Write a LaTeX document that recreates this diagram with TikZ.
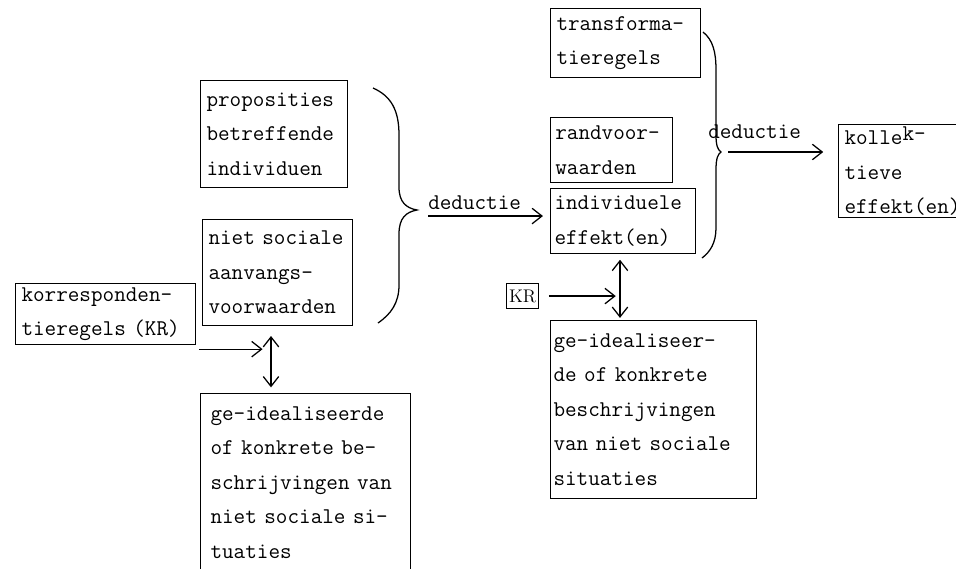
\documentclass[tikz,border=0pt]{standalone}
\usepackage{fontspec}
\usetikzlibrary{arrows.meta,positioning,calc}

\newcommand\typew{\fontsize{16}{24.5}\selectfont\ttfamily}

\begin{document}
\begin{tikzpicture}[
    x=0.025cm, y=-0.025cm,
    box/.style 2 args={rectangle, draw, line width=0.8pt, anchor=north west, align=left, font=\typew, inner xsep=0.15cm, inner ysep=0pt, text width=#1, minimum height=#2},
    lbl/.style={font=\typew, inner sep=0pt},
    arr/.style={-{Straight Barb[length=7pt,width=11pt]}, line width=0.9pt},
    dbl/.style={{Straight Barb[length=7pt,width=11pt]}-{Straight Barb[length=7pt,width=11pt]}, line width=0.9pt},
    brc/.style={line width=0.9pt}
]
\useasboundingbox (0,0) rectangle (956,568);

% Left column
\node[box={4.2cm}{1.525cm}] (korr) at (15,283) {korresponden-\\tieregels (KR)};
\node[box={3.375cm}{2.675cm}] (prop) at (200,80) {proposities\\betreffende\\individuen};
\node[box={3.45cm}{2.65cm}] (niet) at (202,219) {niet sociale\\aanvangs-\\voorwaarden};
\node[box={4.75cm}{4.45cm}, inner xsep=0.25cm] (geid1) at (200,393) {ge-idealiseerde\\of konkrete be-\\schrijvingen van\\niet sociale si-\\tuaties};

% Brace over the first two boxes
\draw[brc] (373,88) .. controls (391,96) and (399,110) .. (399,135) -- (399,187)
    .. controls (399,202) and (406,208) .. (417,210) coordinate (tip1)
    .. controls (406,212) and (399,218) .. (399,234) -- (399,285)
    .. controls (399,303) and (391,314) .. (378,323);

% Middle column
\node[box={3.45cm}{1.725cm}] (trans) at (550,8) {transforma-\\tieregels};
\node[box={2.81cm}{1.625cm}, inner xsep=0.12cm] (rand) at (550,117) {randvoor-\\waarden};
\node[box={3.425cm}{1.625cm}, inner xsep=0.1cm] (indiv) at (550,188) {individuele\\effekt(en)};
\node[box={5.0cm}{4.45cm}, inner xsep=0.075cm] (geid2) at (550,320) {ge-idealiseer-\\de of konkrete\\beschrijvingen\\van niet sociale\\situaties};
\node[rectangle, draw, line width=0.8pt, anchor=north west, inner sep=0pt, minimum width=0.8cm, minimum height=0.625cm, font=\fontsize{13}{15}\selectfont] (kr) at (506,283) {KR};

% Brace over the middle column
\draw[brc] (703,32) .. controls (713,40) and (716,52) .. (716,70) -- (716,135)
    .. controls (716,146) and (718,150) .. (721,152) coordinate (tip2)
    .. controls (718,154) and (716,158) .. (716,170) -- (716,228)
    .. controls (716,243) and (710,252) .. (702,258);

% Right column
\node[box={3.7cm}{2.325cm}] (koll) at (838,124) {kolle\raisebox{0.5ex}{k-}\\tieve\\effekt(en)};

% Deductions
\node[lbl, anchor=base west] (ded1) at (428,209) {deductie};
\draw[arr, shorten >=5pt] ([yshift=-5pt]ded1.base west) -- ([yshift=-5pt]ded1.base west -| indiv.west);
\node[lbl, anchor=base west] (ded2) at (708,138) {deductie};
\coordinate (d2) at (728,152);
\draw[arr, shorten >=10.5pt] (d2) -- (d2 -| koll.west);

% Correspondence rules
\coordinate (v1) at (271,0);
\coordinate (v2) at (620,0);
\coordinate (ka) at ([shift={(3,4)}]korr.south east);
\draw[arr, shorten >=6pt] (ka) -- (ka -| v1);
\draw[dbl, shorten <=7pt, shorten >=4pt] (v1 |- niet.south) -- (v1 |- geid1.north);
\draw[arr, shorten <=7pt, shorten >=3pt] (kr.east) -- (kr.east -| v2);
\draw[dbl, shorten <=4pt, shorten >=1.5pt] (v2 |- indiv.south) -- (v2 |- geid2.north);

\end{tikzpicture}
\end{document}
